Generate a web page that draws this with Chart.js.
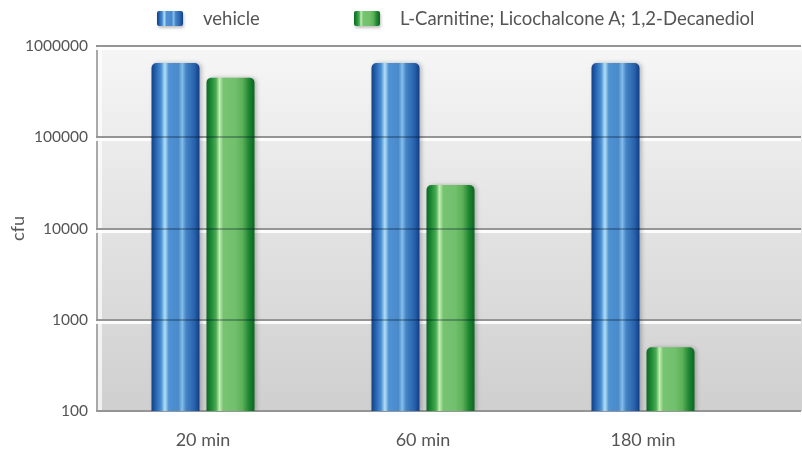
<!DOCTYPE html>
<html lang="en">

<head>
  <meta charset="UTF-8" />
  <title>cfu</title>
  <style>
    body { margin: 0; background: #fff; }
    .wrap { position: relative; width: 802px; height: 451px; overflow: hidden; }
    canvas { display: block; }
    .legend { position: absolute; top: 0; left: 0; font-family: Lato, sans-serif; font-size: 18.5px; color: #555; }
    .legend .item { position: absolute; top: 7px; display: flex; align-items: center; white-space: nowrap; }
    .legend .box { width: 26px; height: 15px; margin-right: 20px; border-radius: 2px; box-shadow: 1px 2px 3px rgba(0, 0, 0, .25); }
  </style>
</head>

<body>
  <div class="wrap">
    <canvas id="cfuChart" width="802" height="451"></canvas>
    <div class="legend" id="legend"></div>
  </div>

  <script src="https://cdn.jsdelivr.net/npm/chart.js"></script>
  <script>
    // data
    const categories = ['20 min', '60 min', '180 min'];
    const vehicle = [650000, 650000, 650000];
    const treated = [450000, 30000, 500];
    const seriesNames = ['vehicle', 'L-Carnitine; Licochalcone A; 1,2-Decanediol'];
    const yTicks = [100, 1000, 10000, 100000, 1000000];

    const CAT_PCT = 0.5;
    const BAR_PCT = 0.873;

    // cylinder look: colour stops across the bar width
    const blueStops = [[0, '#123f86'], [0.1, '#2a67b4'], [0.2, '#4b8fd2'], [0.28, '#b4e0f7'], [0.36, '#4f92d3'],
      [0.56, '#4a8acb'], [0.64, '#86bde8'], [0.72, '#4484c6'], [0.9, '#2760ab'], [1, '#113d84']];
    const greenStops = [[0, '#0a6a22'], [0.1, '#1f8a36'], [0.2, '#4aac52'], [0.27, '#c4eeb4'], [0.35, '#76c472'],
      [0.6, '#72c06c'], [0.75, '#5cb058'], [0.88, '#1f8634'], [1, '#0a6620']];

    function barFill(stops) {
      return function (c) {
        const chart = c.chart;
        const x = chart.scales.x;
        if (!x || c.dataIndex === undefined || !chart.chartArea) return stops[4][1];
        const slot = (x.width / categories.length) * CAT_PCT / 2;
        const w = slot * BAR_PCT;
        const cx = x.getPixelForValue(c.dataIndex) + (c.datasetIndex === 0 ? -slot / 2 : slot / 2);
        const g = chart.ctx.createLinearGradient(cx - w / 2, 0, cx + w / 2, 0);
        stops.forEach(s => g.addColorStop(s[0], s[1]));
        return g;
      };
    }

    // grey wall and gridlines, drawn from the y scale
    const wallPlugin = {
      id: 'wall',
      beforeDatasetsDraw(chart) {
        const { ctx, chartArea: a, scales: { y } } = chart;
        const left = a.left + 4;
        const right = chart.width;
        ctx.save();
        const g = ctx.createLinearGradient(0, a.top, 0, a.bottom);
        g.addColorStop(0, '#f6f6f6');
        g.addColorStop(1, '#cfcfcf');
        ctx.fillStyle = g;
        ctx.fillRect(left, a.top, right - left, a.bottom - a.top);
        // left edge of the wall
        ctx.fillStyle = '#a9a9a9';
        ctx.fillRect(left - 1, a.top - 1, 2, a.bottom - a.top + 2);
        ctx.fillStyle = 'rgba(255,255,255,0.7)';
        ctx.fillRect(left + 1, a.top, 4, a.bottom - a.top);
        yTicks.forEach(v => {
          const py = Math.round(y.getPixelForValue(v));
          ctx.fillStyle = 'rgba(255,255,255,0.9)';
          ctx.fillRect(left - 1, py + 1, right - left, 3);
          ctx.fillStyle = '#959595';
          ctx.fillRect(left - 1, py - 1, right - left, 2);
        });
        // soft shadow for bars
        ctx.shadowColor = 'rgba(0,0,0,0.25)';
        ctx.shadowBlur = 4;
        ctx.shadowOffsetX = 2;
      },
      afterDatasetsDraw(chart) {
        const { ctx, scales: { y } } = chart;
        ctx.restore();
        ctx.save();
        chart.data.datasets.forEach((ds, i) => {
          chart.getDatasetMeta(i).data.forEach(bar => {
            yTicks.forEach(v => {
              const py = Math.round(y.getPixelForValue(v));
              if (py > bar.y + 4 && py < bar.base - 2) {
                ctx.fillStyle = 'rgba(0,20,40,0.3)';
                ctx.fillRect(bar.x - bar.width / 2, py - 1, bar.width, 2);
              }
            });
          });
        });
        ctx.restore();
      }
    };

    const ctx = document.getElementById('cfuChart').getContext('2d');
    const cfuChart = new Chart(ctx, {
      type: 'bar',
      data: {
        labels: categories,
        datasets: [
          { label: seriesNames[0], data: vehicle, backgroundColor: barFill(blueStops) },
          { label: seriesNames[1], data: treated, backgroundColor: barFill(greenStops) }
        ]
      },
      options: {
        responsive: false,
        animation: false,
        events: [],
        datasets: {
          bar: {
            categoryPercentage: CAT_PCT,
            barPercentage: BAR_PCT,
            borderWidth: 0,
            borderRadius: { topLeft: 5, topRight: 5, bottomLeft: 0, bottomRight: 0 }
          }
        },
        layout: { padding: { top: 46, right: 49, left: 0, bottom: 0 } },
        plugins: { legend: { display: false }, tooltip: { enabled: false } },
        scales: {
          x: {
            grid: { display: false, tickLength: 0 },
            border: { display: false },
            ticks: { color: '#555', font: { family: 'Lato', size: 18 }, padding: 18 },
            afterFit: s => { s.height = 40; }
          },
          y: {
            type: 'logarithmic',
            min: 100,
            max: 1000000,
            grid: { display: false, tickLength: 0 },
            border: { display: false },
            afterBuildTicks: s => { s.ticks = yTicks.map(v => ({ value: v })); },
            afterFit: s => { s.width = 93; },
            ticks: { color: '#555', font: { family: 'Lato', size: 15.5 }, padding: 5, callback: v => String(v) },
            title: { display: true, text: 'cfu', color: '#555', font: { family: 'Lato', size: 18 }, padding: { top: 7, bottom: 0 } }
          }
        }
      },
      plugins: [wallPlugin]
    });

    // html legend with the same gradients
    const legendLeft = [157, 354];
    const legendStops = [blueStops, greenStops];
    const legendEl = document.getElementById('legend');
    legendEl.innerHTML = seriesNames.map((name, i) => {
      const grad = legendStops[i].map(s => `${s[1]} ${s[0] * 100}%`).join(', ');
      return `<div class="item" style="left:${legendLeft[i]}px"><span class="box" style="background:linear-gradient(to right, ${grad})"></span><span>${name}</span></div>`;
    }).join('');
  </script>
</body>

</html>
